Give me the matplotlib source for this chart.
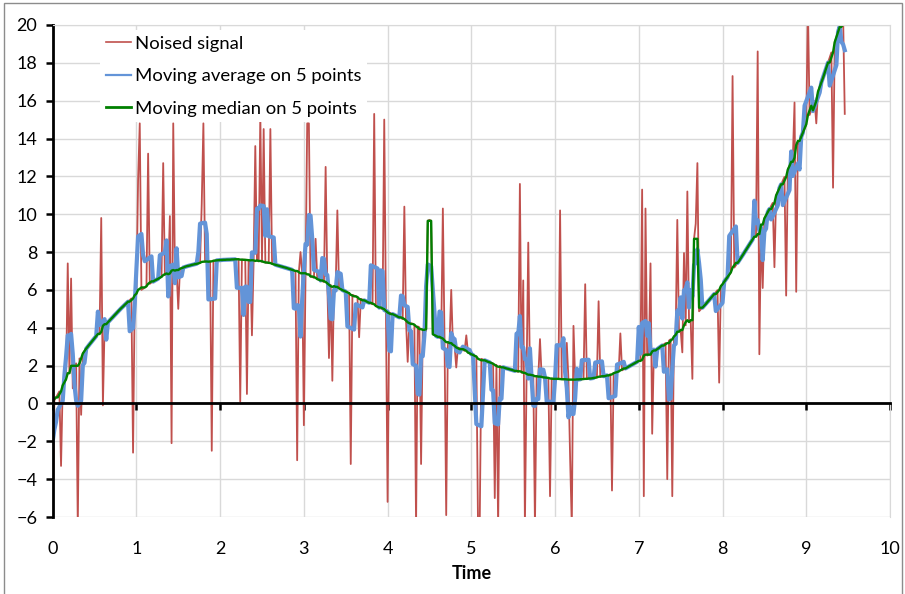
import numpy as np
import pandas as pd
import matplotlib as mpl
import matplotlib.pyplot as plt
from matplotlib.lines import Line2D
from matplotlib.patches import Rectangle

mpl.rc('font', family='Lato')
plt.rcParams.update({'font.size': 12.5})

# sampling step of the signal (time units)
step = 0.02

# clean signal, one value every 0.02 from t=0 to t=9.46
base = np.array([
    0.00, 0.16, 0.32, 0.48, 0.64, 0.80, 0.96, 1.12, 1.28, 1.44,
    1.60, 1.73, 1.86, 1.99, 2.12, 2.25, 2.38, 2.51, 2.64, 2.77,
    2.90, 3.01, 3.12, 3.23, 3.34, 3.45, 3.56, 3.67, 3.78, 3.89,
    4.00, 4.10, 4.19, 4.29, 4.38, 4.48, 4.57, 4.67, 4.76, 4.86,
    4.95, 5.04, 5.12, 5.21, 5.29, 5.38, 5.46, 5.55, 5.63, 5.72,
    5.80, 5.87, 5.93, 6.00, 6.06, 6.13, 6.19, 6.26, 6.32, 6.39,
    6.45, 6.50, 6.54, 6.59, 6.64, 6.69, 6.73, 6.78, 6.83, 6.87,
    6.92, 6.95, 6.99, 7.02, 7.05, 7.09, 7.12, 7.15, 7.18, 7.22,
    7.25, 7.27, 7.29, 7.32, 7.34, 7.36, 7.38, 7.40, 7.43, 7.45,
    7.47, 7.48, 7.49, 7.50, 7.51, 7.53, 7.54, 7.55, 7.56, 7.57,
    7.58, 7.58, 7.59, 7.59, 7.60, 7.60, 7.60, 7.61, 7.61, 7.62,
    7.62, 7.62, 7.61, 7.60, 7.60, 7.59, 7.59, 7.58, 7.57, 7.57,
    7.56, 7.54, 7.53, 7.51, 7.50, 7.48, 7.46, 7.45, 7.43, 7.42,
    7.40, 7.38, 7.35, 7.33, 7.30, 7.28, 7.25, 7.23, 7.20, 7.18,
    7.15, 7.12, 7.09, 7.06, 7.03, 7.00, 6.97, 6.94, 6.91, 6.88,
    6.85, 6.82, 6.78, 6.75, 6.71, 6.68, 6.64, 6.61, 6.57, 6.54,
    6.50, 6.46, 6.42, 6.39, 6.35, 6.31, 6.27, 6.23, 6.20, 6.16,
    6.12, 6.08, 6.04, 5.99, 5.95, 5.91, 5.87, 5.83, 5.78, 5.74,
    5.70, 5.66, 5.62, 5.57, 5.53, 5.49, 5.45, 5.41, 5.36, 5.32,
    5.28, 5.24, 5.19, 5.15, 5.11, 5.07, 5.02, 4.98, 4.94, 4.89,
    4.85, 4.81, 4.76, 4.72, 4.68, 4.64, 4.59, 4.55, 4.51, 4.46,
    4.42, 4.38, 4.33, 4.29, 4.24, 4.20, 4.16, 4.11, 4.07, 4.02,
    3.98, 3.93, 3.89, 3.84, 3.80, 3.75, 3.70, 3.66, 3.61, 3.57,
    3.52, 3.47, 3.43, 3.38, 3.33, 3.29, 3.24, 3.19, 3.14, 3.10,
    3.05, 3.01, 2.96, 2.92, 2.87, 2.83, 2.78, 2.74, 2.69, 2.65,
    2.60, 2.56, 2.52, 2.48, 2.44, 2.40, 2.36, 2.32, 2.28, 2.24,
    2.20, 2.17, 2.14, 2.10, 2.07, 2.04, 2.01, 1.98, 1.94, 1.91,
    1.88, 1.85, 1.83, 1.80, 1.78, 1.75, 1.72, 1.70, 1.67, 1.65,
    1.62, 1.60, 1.58, 1.56, 1.54, 1.52, 1.50, 1.48, 1.46, 1.44,
    1.42, 1.41, 1.40, 1.38, 1.37, 1.36, 1.35, 1.34, 1.32, 1.31,
    1.30, 1.30, 1.29, 1.29, 1.28, 1.28, 1.27, 1.27, 1.26, 1.26,
    1.25, 1.25, 1.26, 1.26, 1.27, 1.28, 1.28, 1.29, 1.29, 1.30,
    1.30, 1.32, 1.33, 1.35, 1.36, 1.38, 1.39, 1.41, 1.42, 1.44,
    1.45, 1.48, 1.51, 1.54, 1.57, 1.60, 1.63, 1.66, 1.69, 1.72,
    1.75, 1.80, 1.85, 1.90, 1.95, 2.00, 2.05, 2.10, 2.15, 2.20,
    2.25, 2.31, 2.36, 2.42, 2.47, 2.53, 2.58, 2.64, 2.69, 2.75,
    2.80, 2.87, 2.93, 3.00, 3.06, 3.13, 3.19, 3.26, 3.32, 3.39,
    3.45, 3.54, 3.62, 3.71, 3.79, 3.88, 3.96, 4.05, 4.13, 4.22,
    4.30, 4.40, 4.49, 4.59, 4.68, 4.78, 4.87, 4.97, 5.06, 5.16,
    5.25, 5.36, 5.46, 5.57, 5.67, 5.78, 5.88, 5.99, 6.09, 6.20,
    6.30, 6.43, 6.55, 6.68, 6.80, 6.93, 7.05, 7.18, 7.30, 7.43,
    7.55, 7.69, 7.83, 7.97, 8.11, 8.25, 8.39, 8.53, 8.67, 8.81,
    8.95, 9.12, 9.28, 9.45, 9.61, 9.78, 9.94, 10.11, 10.27, 10.44,
    10.60, 10.80, 10.99, 11.19, 11.38, 11.58, 11.77, 11.97, 12.16, 12.36,
    12.55, 12.77, 12.99, 13.21, 13.43, 13.65, 13.87, 14.09, 14.31, 14.53,
    14.75, 15.00, 15.24, 15.49, 15.73, 15.98, 16.22, 16.47, 16.71, 16.96,
    17.20, 17.47, 17.74, 18.01, 18.28, 18.55, 18.82, 19.09, 19.36, 19.63,
    19.90, 20.20, 20.50, 20.80,
])

# impulsive noise: time of each outlier and the value it takes
spike_t = [0.00, 0.10, 0.18, 0.22, 0.24, 0.30, 0.34, 0.58, 0.60, 0.96, 1.02, 1.04, 1.14,
           1.32, 1.40, 1.42, 1.44, 1.50, 1.78, 1.80, 1.90,
           2.24, 2.32, 2.38, 2.42, 2.48, 2.52, 2.60, 2.92, 2.96, 3.00, 3.04, 3.06, 3.14,
           3.26, 3.30, 3.34, 3.40, 3.56, 3.66, 3.84, 3.96, 4.00, 4.20, 4.24, 4.34, 4.40,
           4.48, 4.50, 4.52, 4.66, 4.70, 4.76, 4.82, 4.94, 5.08, 5.10, 5.28, 5.32,
           5.58, 5.62, 5.64, 5.68, 5.76, 5.82, 5.94, 6.06, 6.14, 6.18, 6.20, 6.22, 6.36, 6.52,
           6.68, 6.78, 7.04, 7.06, 7.08, 7.14, 7.16, 7.34, 7.40, 7.46, 7.52, 7.54, 7.58,
           7.64, 7.66, 7.68, 7.70,
           7.96, 8.12, 8.42, 8.44, 8.48, 8.62, 8.76, 8.86, 8.88, 9.02, 9.12, 9.32, 9.46]
spike_y = [-6.5, -3.3, 7.4, 6.6, 0.8, -6.5, -0.6, 9.8, -0.1, -2.6, 11.8, 14.8, 13.2,
           12.7, 9.9, -2.1, 14.8, 5.0, 10.5, 14.8, -2.5,
           0.1, 0.5, 3.6, 13.6, 15.3, 14.5, 14.5, -3.0, 8.0, -1.15, 14.8, 14.8, 8.7,
           12.5, 2.4, 1.2, 10.2, -3.2, 3.5, 15.3, 15.0, -5.2, 10.4, 2.2, -6.5, -3.2,
           9.65, 9.7, 9.65, 10.3, -5.9, 6.0, 1.9, 3.6, -6.5, -6.5, -5.0, -6.5,
           11.6, 6.5, -6.5, 8.5, -6.5, 3.4, -4.9, 10.2, 3.2, -2.9, -6.5, 4.1, 6.3, 5.4,
           -4.6, 3.7, 11.3, -4.9, 10.3, 7.4, -1.6, -4.0, -4.9, 9.7, 2.7, 7.95, 11.2,
           1.3, 8.7, 9.5, 12.7,
           1.1, 17.3, 18.6, 2.6, 6.1, 7.2, 5.7, 15.9, 5.9, 21.0, 14.8, 11.4, 15.3]

time = np.arange(len(base)) * step
noised = base.copy()
for ts, ys in zip(spike_t, spike_y):
    noised[np.argmin(np.abs(time - ts))] = ys

sig = pd.Series(noised)
mov_avg = sig.rolling(5, center=True, min_periods=1).mean()
mov_med = sig.rolling(5, center=True, min_periods=1).median()

red = '#c0504d'
blue = '#6394d8'
green = '#008000'

fig = plt.figure(figsize=(9.05, 5.94), dpi=100)
ax = fig.add_axes([0.0582, 0.1296, 0.9252, 0.8284])

ax.plot(time, noised, color=red, lw=1.3)
ax.plot(time, mov_avg, color=blue, lw=3.0)
ax.plot(time, mov_med, color=green, lw=1.7)

ax.set_xlim(0, 10)
ax.set_ylim(-6, 20)
ax.set_yticks(np.arange(-6, 21, 2))
ax.set_xticks(np.arange(0, 11, 1))
ax.grid(True, color='#d9d9d9', lw=1)
ax.set_axisbelow(True)

ax.spines['bottom'].set_position(('data', 0))
ax.spines['bottom'].set_linewidth(2)
ax.spines['left'].set_linewidth(2)
ax.spines['top'].set_color('#d9d9d9')
ax.spines['right'].set_color('#d9d9d9')
ax.tick_params(axis='x', direction='out', length=5, width=1.8, labelbottom=False)
ax.tick_params(axis='y', direction='out', length=5, width=1.8, pad=6, labelsize=13)

sec = ax.secondary_xaxis('bottom')
sec.set_xticks(np.arange(0, 11, 1))
sec.tick_params(length=0, pad=17, labelsize=13)
sec.spines['bottom'].set_visible(False)
sec.set_xlabel('Time', fontweight='bold', labelpad=6, fontsize=13)

handles = [Line2D([], [], color=red, lw=1.2),
           Line2D([], [], color=blue, lw=1.6),
           Line2D([], [], color=green, lw=2.0)]
labels = ['Noised signal', 'Moving average on 5 points', 'Moving median on 5 points']
leg = ax.legend(handles, labels, loc='upper left', bbox_to_anchor=(100 / 905, 1 - 30 / 594),
                bbox_transform=fig.transFigure, fontsize=13.3, frameon=True, fancybox=False,
                framealpha=1, edgecolor='none', borderpad=0.3, borderaxespad=0,
                handlelength=1.4, handletextpad=0.2, labelspacing=0.9)

fig.patches.append(Rectangle((4 / 905, -0.01), 898 / 905, 1 - 3 / 594 + 0.01,
                             transform=fig.transFigure, fill=False,
                             edgecolor='#8c8c8c', lw=1))

fig.savefig('out.png', dpi=100)
